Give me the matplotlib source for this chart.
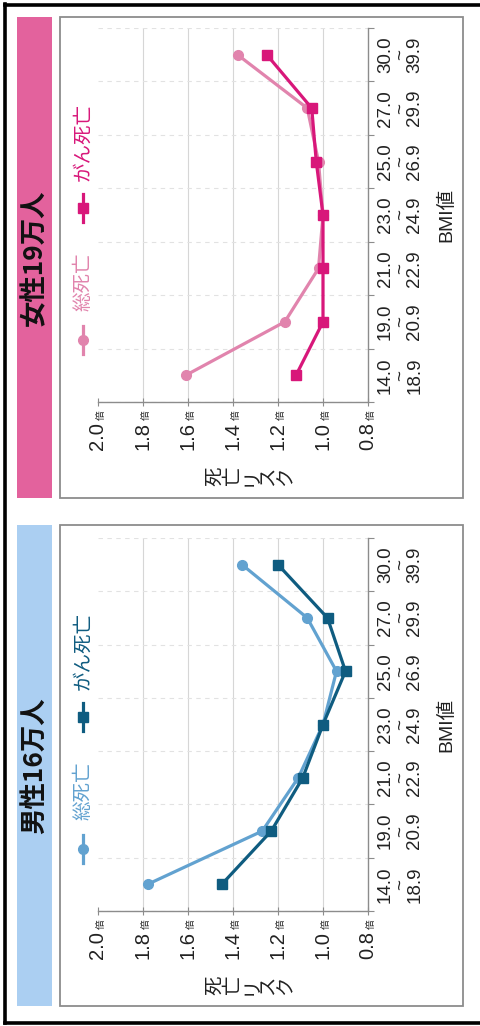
import matplotlib
matplotlib.use("Agg")
import matplotlib.pyplot as plt
from matplotlib.patches import Rectangle
from matplotlib.lines import Line2D
from matplotlib.transforms import offset_copy, blended_transform_factory

plt.rcParams["font.family"] = ["Liberation Sans", "Noto Sans CJK JP", "DejaVu Sans"]

# ---- data -------------------------------------------------------------
bmi_labels = ["14.0\n~\n18.9", "19.0\n~\n20.9", "21.0\n~\n22.9", "23.0\n~\n24.9",
              "25.0\n~\n26.9", "27.0\n~\n29.9", "30.0\n~\n39.9"]
risk_ticks = [2.0, 1.8, 1.6, 1.4, 1.2, 1.0, 0.8]
risk_tick_labels = ["2.0", "1.8", "1.6", "1.4", "1.2", "1.0", "0.8"]

male_total = [1.78, 1.27, 1.11, 1.00, 0.94, 1.07, 1.36]
male_cancer = [1.45, 1.23, 1.09, 1.00, 0.90, 0.98, 1.20]
female_total = [1.61, 1.17, 1.02, 1.00, 1.02, 1.07, 1.38]
female_cancer = [1.12, 1.00, 1.00, 1.00, 1.03, 1.05, 1.25]

series_names = ["総死亡", "がん死亡"]
panel_titles = ["女性19万人", "男性16万人"]
axis_title = "死亡リスク"
bmi_title = "BMI値"
unit = "倍"

# ---- figure -----------------------------------------------------------
W, H = 480, 1026
fig = plt.figure(figsize=(W / 100, H / 100), dpi=100)
fig.patch.set_facecolor("white")


def fx(x):
    return x / W


def fy(y):
    return 1 - y / H


JP = ["Noto Sans CJK JP", "DejaVu Sans"]

panels = [
    dict(title=panel_titles[0], band="#e3629d", top=17, bottom=498,
         ax_top=28, ax_bottom=402,
         total=female_total, cancer=female_cancer,
         c_total="#e184ad", c_cancer="#d8177a"),
    dict(title=panel_titles[1], band="#abcff2", top=525, bottom=1006,
         ax_top=538, ax_bottom=911,
         total=male_total, cancer=male_cancer,
         c_total="#62a2d0", c_cancer="#0f5c80"),
]

# outer border (left, top, bottom)
for xs, ys in [((5, 5), (4, 1023)), ((5, 480), (5, 5)), ((5, 480), (1023, 1023))]:
    fig.add_artist(Line2D([fx(v) for v in xs], [fy(v) for v in ys],
                          transform=fig.transFigure, color="black", lw=2.6))

for p in panels:
    # title band
    fig.add_artist(Rectangle((fx(17), fy(p["bottom"])), fx(52) - fx(17),
                             fy(p["top"]) - fy(p["bottom"]),
                             transform=fig.transFigure, facecolor=p["band"],
                             edgecolor="none"))
    fig.text(fx(35), fy((p["top"] + p["bottom"]) / 2), p["title"], rotation=90,
             ha="center", va="center", fontsize=19, fontweight="bold",
             family=JP, color="#111111")
    # panel frame
    fig.add_artist(Rectangle((fx(60), fy(p["bottom"])), fx(463) - fx(60),
                             fy(p["top"]) - fy(p["bottom"]),
                             transform=fig.transFigure, facecolor="none",
                             edgecolor="#8c8c8c", lw=1.3))

    ax = fig.add_axes([fx(98), fy(p["ax_bottom"]), fx(368) - fx(98),
                       fy(p["ax_top"]) - fy(p["ax_bottom"])])
    ax.set_facecolor("none")
    y = list(range(len(bmi_labels)))
    ax.plot(p["total"], y, color=p["c_total"], lw=2.3, marker="o", ms=7,
            zorder=3, solid_joinstyle="round")
    ax.plot(p["cancer"], y, color=p["c_cancer"], lw=2.3, marker="s", ms=7,
            zorder=4, solid_joinstyle="round")

    ax.set_xlim(2.0, 0.8)
    ax.set_ylim(-0.5, len(bmi_labels) - 0.5)
    for s in ("left", "top"):
        ax.spines[s].set_visible(False)
    for s in ("bottom", "right"):
        ax.spines[s].set_color("#8c8c8c")
        ax.spines[s].set_linewidth(1.0)

    # risk axis (bottom)
    ax.set_xticks(risk_ticks)
    ax.set_xticklabels(risk_tick_labels, rotation=90, fontsize=14.5,
                       color="#222222")
    ax.tick_params(axis="x", direction="inout", length=6, width=0.8,
                   color="#8c8c8c", pad=11.5)
    ax.grid(axis="x", color="#d6d6d6", lw=0.8)
    ax.get_xgridlines()[0].set_visible(False)
    ax.get_xgridlines()[-1].set_visible(False)

    # BMI axis (right)
    ax.yaxis.tick_right()
    ax.set_yticks(y)
    ax.set_yticklabels(bmi_labels, rotation=90, fontsize=13.5,
                       color="#222222", linespacing=0.82,
                       ha="left", va="center", multialignment="center")
    ax.tick_params(axis="y", which="major", length=0, pad=6.5)
    ax.set_yticks([k - 0.5 for k in range(len(bmi_labels) + 1)], minor=True)
    ax.tick_params(axis="y", which="minor", direction="out", length=4,
                   width=0.8, color="#8c8c8c")
    ax.grid(axis="y", which="minor", color="#e2e2e2", lw=0.8, ls=(0, (4, 4)))

    # unit marks next to the risk tick labels
    tr = blended_transform_factory(ax.transData, ax.transAxes)
    for v in risk_ticks:
        ax.text(v, 0, unit, transform=offset_copy(tr, fig=fig, x=2.5, y=-8,
                                                  units="dots"),
                rotation=90, ha="center", va="top", fontsize=7,
                family=JP, color="#222222", clip_on=False)

    # axis titles
    fig.text(fx(446), fy((p["ax_top"] + p["ax_bottom"]) / 2), bmi_title,
             rotation=90, ha="center", va="center", fontsize=14,
             color="#222222")
    # vertical-writing risk label: one character per line, lines run left→right
    fig.text(fx(250), fy(p["ax_bottom"] + 74), "\n".join(axis_title),
             rotation=90, ha="center", va="center", multialignment="center",
             linespacing=0.8, fontsize=14, family=JP, color="#222222")

    # legend
    off = p["ax_bottom"] - 402
    legend_items = [
        (series_names[0], p["c_total"], "o", 340 + off, 282 + off),
        (series_names[1], p["c_cancer"], "s", 208 + off, 142 + off),
    ]
    for name, col, mk, my, ty2 in legend_items:
        fig.add_artist(Line2D([fx(83), fx(83)], [fy(my + 14), fy(my - 14)],
                              transform=fig.transFigure, color=col, lw=2.3))
        fig.add_artist(Line2D([fx(83)], [fy(my)], transform=fig.transFigure,
                              color=col, marker=mk, ms=7, lw=0))
        fig.text(fx(83), fy(ty2), name, rotation=90, ha="center", va="center",
                 fontsize=14, family=JP, color=col)

fig.savefig("out.png", dpi=100)
